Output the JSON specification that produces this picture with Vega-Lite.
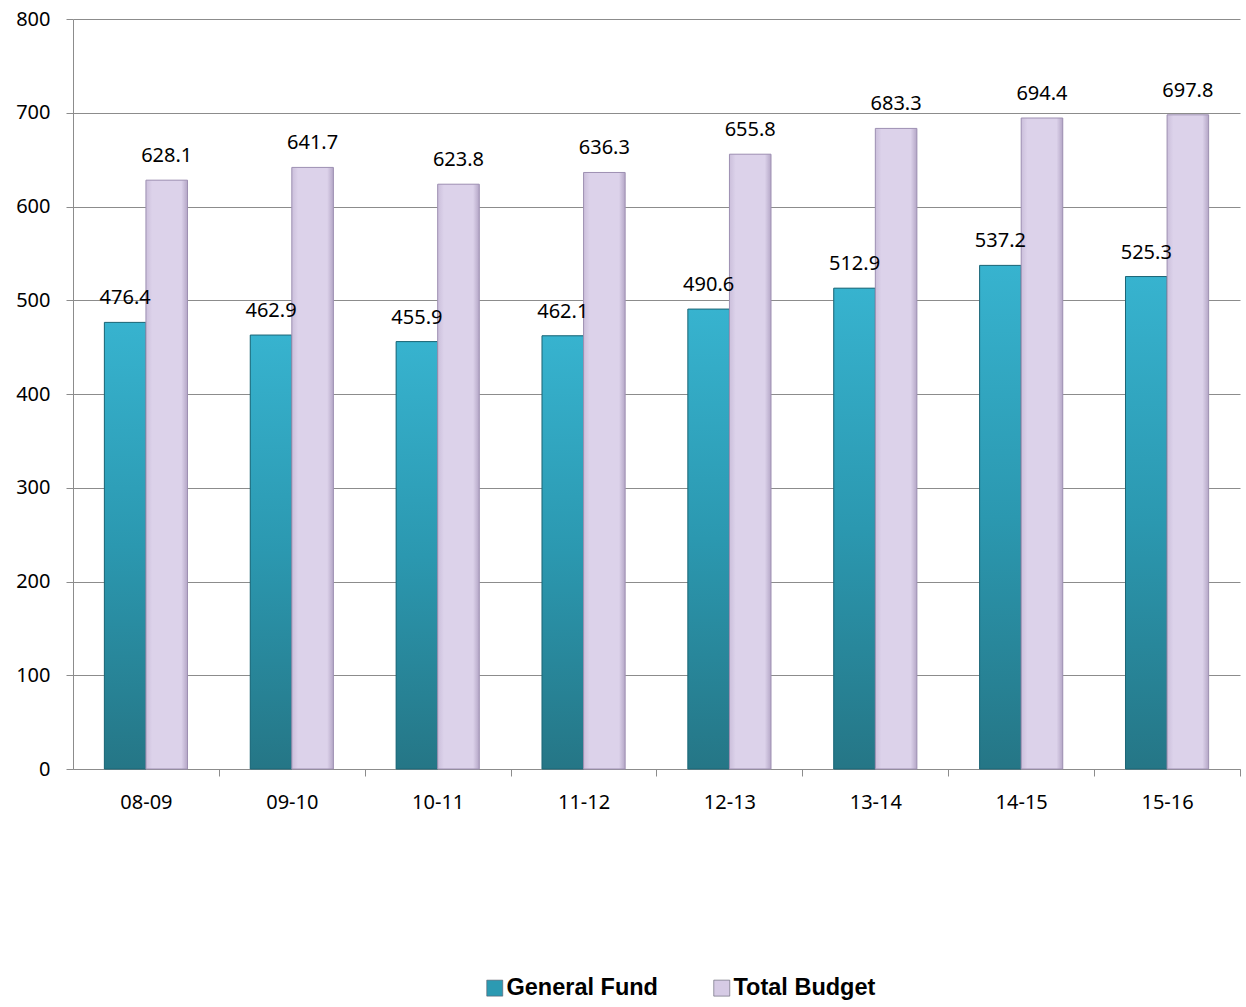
{
  "$schema": "https://vega.github.io/schema/vega-lite/v6.json",
  "width": 1167,
  "height": 750,
  "autosize": {"type": "none"},
  "padding": {"left": 73, "top": 19, "right": 6, "bottom": 238},
  "background": "white",
  "config": {
    "view": {"stroke": null},
    "font": "Noto Sans",
    "axis": {
      "domainColor": "#8c8c8c",
      "tickColor": "#8c8c8c",
      "gridColor": "#8c8c8c",
      "labelColor": "#000000",
      "labelFont": "Noto Sans",
      "labelFontSize": 20,
      "tickSize": 7,
      "title": null
    }
  },
  "data": {
    "values": [
      {"year": "08-09", "series": "General Fund", "value": 476.4},
      {"year": "08-09", "series": "Total Budget", "value": 628.1},
      {"year": "09-10", "series": "General Fund", "value": 462.9},
      {"year": "09-10", "series": "Total Budget", "value": 641.7},
      {"year": "10-11", "series": "General Fund", "value": 455.9},
      {"year": "10-11", "series": "Total Budget", "value": 623.8},
      {"year": "11-12", "series": "General Fund", "value": 462.1},
      {"year": "11-12", "series": "Total Budget", "value": 636.3},
      {"year": "12-13", "series": "General Fund", "value": 490.6},
      {"year": "12-13", "series": "Total Budget", "value": 655.8},
      {"year": "13-14", "series": "General Fund", "value": 512.9},
      {"year": "13-14", "series": "Total Budget", "value": 683.3},
      {"year": "14-15", "series": "General Fund", "value": 537.2},
      {"year": "14-15", "series": "Total Budget", "value": 694.4},
      {"year": "15-16", "series": "General Fund", "value": 525.3},
      {"year": "15-16", "series": "Total Budget", "value": 697.8}
    ]
  },
  "encoding": {
    "x": {
      "field": "year",
      "type": "nominal",
      "sort": null,
      "scale": {"paddingInner": 0.43, "paddingOuter": 0.215},
      "axis": {
        "labelAngle": 0,
        "bandPosition": 1,
        "tickOffset": 31.36,
        "labelOffset": -31.36,
        "tickExtra": false,
        "labelPadding": 16,
        "grid": false
      }
    },
    "xOffset": {
      "field": "series",
      "type": "nominal",
      "sort": ["General Fund", "Total Budget"],
      "scale": {"domain": ["General Fund", "Total Budget"]}
    },
    "y": {
      "field": "value",
      "type": "quantitative",
      "scale": {"domain": [0, 800], "nice": false},
      "axis": {"values": [0, 100, 200, 300, 400, 500, 600, 700, 800], "grid": true, "labelPadding": 16, "domain": true}
    }
  },
  "layer": [
    {
      "mark": {"type": "bar"},
      "encoding": {
        "color": {
          "field": "series",
          "type": "nominal",
          "scale": {
            "domain": ["General Fund", "Total Budget"],
            "range": ["#2c9ab2", "#d6cbe5"]
          },
          "legend": {
            "title": null,
            "orient": "none",
            "direction": "horizontal",
            "legendX": 410,
            "legendY": 957,
            "symbolType": "square",
            "symbolSize": 256,
            "symbolOpacity": 1,
            "symbolStrokeColor": "#5a5a6a",
            "symbolStrokeWidth": 0.6,
            "labelFont": "Liberation Sans",
            "labelFontWeight": "bold",
            "labelFontSize": 23.5,
            "labelColor": "#000000",
            "labelOffset": 0,
            "columnPadding": 52
          }
        }
      }
    },
    {
      "transform": [{"filter": "datum.series === 'General Fund'"}],
      "mark": {
        "type": "bar",
        "stroke": "#1d6676",
        "strokeWidth": 1,
        "color": {"gradient": "linear", "x1": 0, "y1": 0, "x2": 0, "y2": 1, "stops": [
          {"offset": 0, "color": "#37b3cf"},
          {"offset": 0.5, "color": "#2b98b0"},
          {"offset": 1, "color": "#257686"}
        ]}
      }
    },
    {
      "transform": [{"filter": "datum.series === 'Total Budget'"}],
      "mark": {
        "type": "bar",
        "stroke": "#9e90b2",
        "strokeWidth": 1,
        "color": {"gradient": "linear", "x1": 0, "y1": 0, "x2": 1, "y2": 0, "stops": [
          {"offset": 0, "color": "#cbbfdb"},
          {"offset": 0.15, "color": "#dcd2ea"},
          {"offset": 0.85, "color": "#dcd2ea"},
          {"offset": 1, "color": "#b4a6c6"}
        ]}
      }
    },
    {
      "mark": {"type": "text", "baseline": "bottom", "dy": -14, "fontSize": 20, "font": "Noto Sans", "color": "#000000"},
      "encoding": {
        "text": {"field": "value", "type": "quantitative", "format": ".1f"}
      }
    }
  ]
}
